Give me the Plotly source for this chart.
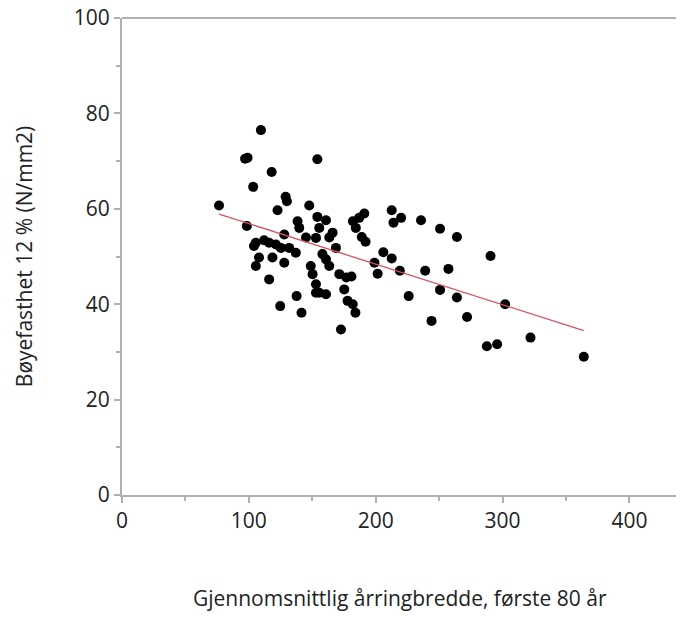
import numpy as np
import plotly.graph_objects as go

x_vals = [76.5,109.5,97,99,154,118,103.4,129,130,122.6,147.6,191,187,182,184.3,189,192,199,201.5,98.4,
138.4,139.7,154,160.8,155.5,152.9,166,163.4,145,127.9,105.5,112,116,104,121.3,125.3,131.8,137,168.6,158,
160.8,163.4,148.8,150.2,152.9,155.5,160.8,152.9,171.3,176.8,180.9,175.2,177.8,181.9,184,172.6,108,105.5,118.6,127.9,
116,137.6,124.7,141.5,212.6,220,214,235.7,250.7,264,206,212.6,219,239,257.3,290.5,226,250.7,264,302,244,272,287.6,295.7,322,364]
y_vals = [60.7,76.5,70.5,70.7,70.4,67.7,64.6,62.5,61.6,59.7,60.7,59.0,58.1,57.4,56.0,54.1,53.1,48.7,46.4,56.4,
57.4,56.0,58.3,57.6,56.0,53.9,55.0,54.0,54.0,54.6,52.9,53.4,52.9,52.2,52.5,51.8,51.8,50.8,51.8,50.5,
49.4,48.0,48.0,46.3,44.2,42.4,42.1,42.4,46.3,45.6,45.8,43.1,40.7,40.0,38.2,34.7,49.8,48.0,49.8,48.7,
45.2,41.7,39.6,38.2,59.7,58.1,57.1,57.6,55.8,54.1,50.9,49.6,47.0,47.0,47.4,50.1,41.7,43.0,41.4,40.0,36.5,37.3,31.2,31.6,33.0,29.0]

x_title = "Gjennomsnittlig årringbredde, første 80 år"
y_title = "Bøyefasthet 12 % (N/mm2)"

xa = np.array(x_vals); ya = np.array(y_vals)
b, a = np.polyfit(xa, ya, 1)
fx = np.array([xa.min(), xa.max()])
fy = a + b * fx

FONT = "Open Sans, DejaVu Sans"
fig = go.Figure()
fig.add_trace(go.Scatter(x=x_vals, y=y_vals, mode="markers",
                         marker=dict(color="black", size=10), hoverinfo="skip"))
fig.add_trace(go.Scatter(x=fx, y=fy, mode="lines", line=dict(color="#d9505f", width=1.3)))

axis_common = dict(showgrid=False, zeroline=False, showline=True, linecolor="#b0b0b0", linewidth=2,
                   ticks="outside", tickcolor="#b0b0b0", ticklen=6, tickwidth=1.5,
                   ticklabeloverflow="allow", automargin=False,
                   tickfont=dict(family=FONT, size=21, color="#222222"),
                   minor=dict(ticks="outside", ticklen=4, tickcolor="#b0b0b0"))
fig.update_layout(
    width=684, height=617, showlegend=False,
    plot_bgcolor="white", paper_bgcolor="white",
    margin=dict(l=114, r=8, t=10, b=130),
    xaxis=dict(range=[0, 443], tickvals=[0, 100, 200, 300, 400], minor_dtick=50, **axis_common),
    yaxis=dict(range=[0, 100], tickvals=[0, 20, 40, 60, 80, 100], minor_dtick=10, **axis_common),
    shapes=[dict(type="line", xref="paper", yref="paper", x0=0, x1=1.05, y0=1, y1=1,
                 line=dict(color="#b0b0b0", width=2))],
    annotations=[
        dict(text=x_title, xref="paper", yref="paper", x=0.495, y=-0.215, showarrow=False,
             xanchor="center", yanchor="middle", font=dict(family=FONT, size=21, color="#222")),
        dict(text=y_title, xref="paper", yref="paper", x=-0.175, y=0.5, showarrow=False, textangle=-90,
             xanchor="center", yanchor="middle", font=dict(family=FONT, size=21, color="#222")),
    ],
)
fig.write_html("out.html")
